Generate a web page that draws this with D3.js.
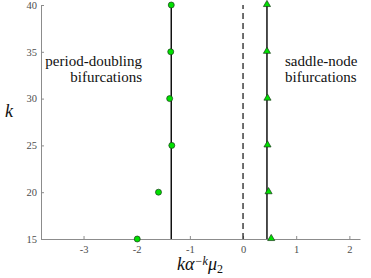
<!DOCTYPE html>
<html>
<head>
<meta charset="utf-8">
<script src="https://cdn.jsdelivr.net/npm/d3@7"></script>
<style>
body { margin: 0; background: #fff; }
</style>
</head>
<body>
<div id="canvas"></div>
<script>
// data
const kValues = [15, 20, 25, 30, 35, 40];
const pdValues = [-1.99, -1.59, -1.34, -1.38, -1.36, -1.35];
const snValues = [0.53, 0.48, 0.46, 0.46, 0.45, 0.45];
const pdLimit = -1.35;
const snLimit = 0.45;
const xTicks = [-3, -2, -1, 0, 1, 2];
const yTicks = [15, 20, 25, 30, 35, 40];

const w = 371,
    h = 278,
    mLeft = 41,
    mRight = 360,
    mTop = 5,
    mBottom = 239,
    axisCol = '#8c8c8c',
    tickCol = '#4d4d4d',
    green = '#00e000',
    font = '"Liberation Serif", "DejaVu Serif", "Liberation Sans", sans-serif';

const svg = d3.select('#canvas').append('svg')
    .attr('width', w)
    .attr('height', h);

const x = d3.scaleLinear().domain([-3.8, 2.2]).range([mLeft, mRight]);
const y = d3.scaleLinear().domain([15, 40]).range([mBottom, mTop]);

// axes, ticks pointing inwards
const xAxis = svg.append('g')
    .attr('transform', 'translate(0,' + mBottom + ')')
    .call(d3.axisBottom(x).tickValues(xTicks).tickSizeInner(-3).tickSizeOuter(0));
const yAxis = svg.append('g')
    .attr('transform', 'translate(' + mLeft + ',0)')
    .call(d3.axisLeft(y).tickValues(yTicks).tickSizeInner(-3).tickSizeOuter(0));

[xAxis, yAxis].forEach(a => {
    a.attr('font-family', font).attr('font-size', 10.5);
    a.select('.domain').attr('stroke', axisCol);
    a.selectAll('.tick line').attr('stroke', axisCol);
    a.selectAll('.tick text').attr('fill', tickCol);
});
xAxis.selectAll('.tick text').attr('y', 7).text(d => d < 0 ? '-' + (-d) : d);
yAxis.selectAll('.tick text').attr('x', -4);

// limit lines
svg.append('line')
    .attr('x1', x(0)).attr('x2', x(0))
    .attr('y1', y(15)).attr('y2', y(40))
    .attr('stroke', '#222')
    .attr('stroke-width', 1.3)
    .attr('stroke-dasharray', '6,4');

[pdLimit, snLimit].forEach(v => {
    svg.append('line')
        .attr('x1', x(v)).attr('x2', x(v))
        .attr('y1', y(15)).attr('y2', y(40))
        .attr('stroke', '#111')
        .attr('stroke-width', 1.5);
});

// period-doubling points
svg.selectAll('circle.pd')
    .data(kValues)
    .enter().append('circle')
    .attr('class', 'pd')
    .attr('cx', (d, i) => x(pdValues[i]))
    .attr('cy', d => y(d))
    .attr('r', 3)
    .attr('fill', green)
    .attr('stroke', '#1a3a1a')
    .attr('stroke-width', 0.7);

// saddle-node points
const tri = d3.symbol().type(d3.symbolTriangle).size(22);
svg.selectAll('path.sn')
    .data(kValues)
    .enter().append('path')
    .attr('class', 'sn')
    .attr('d', tri)
    .attr('transform', (d, i) => 'translate(' + x(snValues[i]) + ',' + (y(d) - 0.5) + ')')
    .attr('fill', green)
    .attr('stroke', '#1a3a1a')
    .attr('stroke-width', 0.7);

// annotations
function note(sel) {
    sel.attr('font-family', font)
        .attr('font-size', '15px')
        .attr('fill', '#111');
}
svg.append('text').attr('x', 142).attr('y', 66).attr('text-anchor', 'end')
    .text('period-doubling').call(note);
svg.append('text').attr('x', 142).attr('y', 82).attr('text-anchor', 'end')
    .text('bifurcations').call(note);
svg.append('text').attr('x', 285).attr('y', 66)
    .text('saddle-node').call(note);
svg.append('text').attr('x', 285).attr('y', 82)
    .text('bifurcations').call(note);

// axis labels
svg.append('text')
    .attr('x', 9).attr('y', 117)
    .attr('text-anchor', 'middle')
    .attr('font-family', font)
    .attr('font-style', 'italic')
    .attr('font-size', '18px')
    .attr('fill', '#111')
    .text('k');

const xl = svg.append('text')
    .attr('x', 200).attr('y', 270)
    .attr('text-anchor', 'middle')
    .attr('font-family', font)
    .attr('font-style', 'italic')
    .attr('font-size', '18px')
    .attr('fill', '#111');
xl.append('tspan').text('kα');
xl.append('tspan').attr('dy', -5).attr('font-size', '12px').text('−k');
xl.append('tspan').attr('dy', 5).text('μ');
xl.append('tspan').attr('dy', 3).attr('font-size', '12px').attr('font-style', 'normal').text('2');
</script>
</body>
</html>
